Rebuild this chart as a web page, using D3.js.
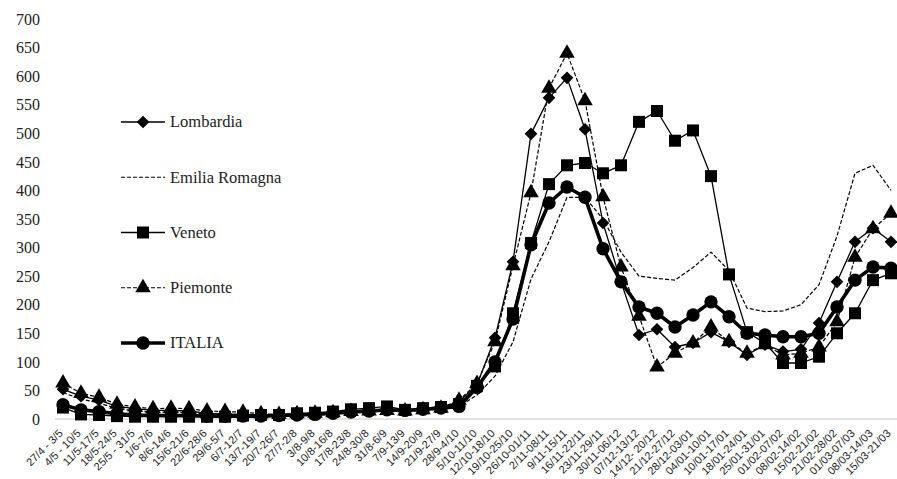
<!DOCTYPE html>
<html>
<head>
<meta charset="utf-8">
<script src="https://cdn.jsdelivr.net/npm/d3@7"></script>
<style>
  html, body { margin: 0; padding: 0; background: #fff; }
  svg { display: block; }
  .ytick text { font-family: "Liberation Serif", "DejaVu Serif", serif; font-size: 16px; fill: #222; }
  .xtick text { font-family: "Liberation Sans", Arial, sans-serif; font-size: 11px; fill: #222; }
  .legend text { font-family: "Liberation Serif", "DejaVu Serif", serif; font-size: 16.5px; fill: #222; }
</style>
</head>
<body>
<svg id="chart" width="897" height="479"></svg>
<script>
// Weekly periods (2020-2021)
const categories = [
  "27/4 - 3/5", "4/5 - 10/5", "11/5-17/5", "18/5-24/5", "25/5 - 31/5", "1/6-7/6",
  "8/6-14/6", "15/6-21/6", "22/6-28/6", "29/6-5/7", "6/7-12/7", "13/7-19/7",
  "20/7-26/7", "27/7-2/8", "3/8-9/8", "10/8-16/8", "17/8-23/8", "24/8-30/8",
  "31/8-6/9", "7/9-13/9", "14/9-20/9", "21/9-27/9", "28/9-4/10", "5/10-11/10",
  "12/10-18/10", "19/10-25/10", "26/10-01/11", "2/11-08/11", "9/11-15/11",
  "16/11-22/11", "23/11-29/11", "30/11-06/12", "07/12-13/12", "14/12- 20/12",
  "21/12-27/12", "28/12-03/01", "04/01-10/01", "10/01-17/01", "18/01-24/01",
  "25/01-31/01", "01/02-07/02", "08/02-14/02", "15/02-21/02", "21/02-28/02",
  "01/03-07/03", "08/03-14/03", "15/03-21/03"
];

const lombardia = [52, 40, 33, 22, 18, 15, 15, 14, 10, 9, 8, 7, 7, 8, 10, 12, 14, 16, 17, 15, 17, 20,
  30, 60, 142, 275, 499, 562, 597, 507, 343, 240, 147, 157, 126, 133, 152, 135, 112, 130, 118, 122,
  168, 240, 310, 334, 310];

const emiliaRomagna = [46, 35, 28, 18, 14, 12, 12, 11, 8, 7, 7, 6, 6, 7, 8, 10, 12, 13, 14, 13, 15, 18,
  22, 42, 75, 135, 245, 310, 388, 388, 350, 292, 250, 246, 243, 265, 292, 260, 194, 188, 189, 200,
  235, 320, 430, 444, 400];

const veneto = [20, 8, 7, 5, 4, 4, 4, 4, 4, 4, 6, 7, 7, 10, 11, 13, 17, 19, 22, 16, 19, 21,
  26, 58, 92, 185, 308, 411, 444, 448, 430, 444, 520, 539, 487, 505, 425, 253, 152, 133, 98, 98,
  109, 150, 185, 243, 255];

const piemonte = [63, 45, 38, 26, 21, 18, 19, 18, 14, 13, 12, 9, 8, 9, 10, 11, 13, 14, 15, 14, 16, 19,
  33, 62, 135, 268, 396, 579, 640, 557, 389, 266, 180, 91, 115, 133, 161, 135, 115, 130, 112, 115,
  126, 170, 283, 333, 360];

const italia = [25, 16, 13, 9, 7, 6, 6, 6, 5, 5, 5, 5, 6, 7, 8, 10, 12, 14, 16, 15, 17, 19,
  22, 55, 100, 175, 305, 378, 406, 388, 298, 240, 196, 185, 161, 182, 205, 179, 150, 147, 144, 144,
  150, 196, 243, 266, 264];

const yTicks = [0, 50, 100, 150, 200, 250, 300, 350, 400, 450, 500, 550, 600, 650, 700];

const series = [
  { name: "Lombardia",       values: lombardia,     width: 1.3, dash: null,  marker: "diamond"  },
  { name: "Emilia Romagna",  values: emiliaRomagna, width: 1.2, dash: "4,2", marker: null       },
  { name: "Veneto",          values: veneto,        width: 1.3, dash: null,  marker: "square"   },
  { name: "Piemonte",        values: piemonte,      width: 1.2, dash: "4,2", marker: "triangle" },
  { name: "ITALIA",          values: italia,        width: 3.6, dash: null,  marker: "circle"   }
];

const svg = d3.select("#chart");
const plotLeft = 54, plotRight = 900, plotTop = 19, plotBottom = 419;

const x = d3.scalePoint().domain(categories).range([plotLeft, plotRight]).padding(0.5);
const y = d3.scaleLinear().domain([0, 700]).range([plotBottom, plotTop]);

// category axis baseline
svg.append("line")
  .attr("x1", 55).attr("x2", 897)
  .attr("y1", y(0)).attr("y2", y(0))
  .attr("stroke", "#d9d9d9").attr("stroke-width", 1.5);

// value axis labels
const yAxis = svg.append("g")
  .attr("class", "ytick")
  .attr("transform", "translate(40,0)")
  .call(d3.axisLeft(y).tickValues(yTicks).tickSize(0).tickPadding(0));
yAxis.select(".domain").remove();
yAxis.selectAll("text").attr("dy", "0.33em");

// category labels, rotated
const xAxis = svg.append("g")
  .attr("class", "xtick")
  .attr("transform", `translate(0,${y(0)})`)
  .call(d3.axisBottom(x).tickSize(0));
xAxis.select(".domain").remove();
xAxis.selectAll("text")
  .attr("text-anchor", "end")
  .attr("dy", null)
  .attr("y", 0)
  .attr("transform", "translate(0,15) rotate(-45)");

// a diamond drawn as a square turned by 45 degrees
const wideDiamond = {
  draw(ctx, size) {
    const r = Math.sqrt(size / 2);
    ctx.moveTo(0, -r); ctx.lineTo(r, 0); ctx.lineTo(0, r); ctx.lineTo(-r, 0); ctx.closePath();
  }
};

const symbolFor = {
  diamond:  d3.symbol().type(wideDiamond).size(80),
  square:   d3.symbol().type(d3.symbolSquare).size(144),
  triangle: d3.symbol().type(d3.symbolTriangle).size(105),
  circle:   d3.symbol().type(d3.symbolCircle).size(140)
};

const line = d3.line()
  .x((d, i) => x(categories[i]))
  .y(d => y(d));

series.forEach(s => {
  const g = svg.append("g").attr("class", "series");
  g.append("path")
    .datum(s.values)
    .attr("fill", "none")
    .attr("stroke", "#000")
    .attr("stroke-width", s.width)
    .attr("stroke-dasharray", s.dash)
    .attr("stroke-linejoin", "round")
    .attr("d", line);
  if (s.marker) {
    g.selectAll("path.mk")
      .data(s.values)
      .join("path")
      .attr("class", "mk")
      .attr("transform", (d, i) => `translate(${x(categories[i])},${y(d)})`)
      .attr("d", symbolFor[s.marker]())
      .attr("fill", "#000");
  }
});

// legend
const legendY = d3.scalePoint().domain(series.map(s => s.name)).range([122, 343]);
const legend = svg.append("g").attr("class", "legend");
series.forEach(s => {
  const ly = legendY(s.name);
  legend.append("line")
    .attr("x1", 121).attr("x2", 165)
    .attr("y1", ly).attr("y2", ly)
    .attr("stroke", "#000")
    .attr("stroke-width", s.width)
    .attr("stroke-dasharray", s.dash);
  if (s.marker) {
    legend.append("path")
      .attr("transform", `translate(143,${ly})`)
      .attr("d", symbolFor[s.marker]())
      .attr("fill", "#000");
  }
  legend.append("text")
    .attr("x", 170).attr("y", ly)
    .attr("dy", "0.33em")
    .text(s.name);
});
</script>
</body>
</html>
